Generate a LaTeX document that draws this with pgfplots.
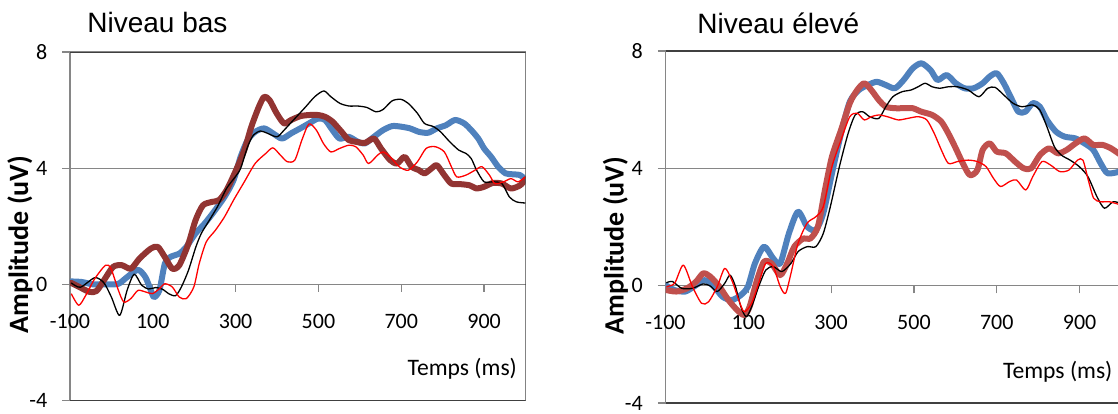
\documentclass[border=0pt]{standalone}
\usepackage{fontspec}
\setmainfont{Carlito}
\newfontfamily\arial{Liberation Sans}
\usepackage{pgfplots}
\pgfplotsset{compat=1.18}

\definecolor{xlblue}{RGB}{79,129,189}
\definecolor{xldark}{RGB}{146,52,50}
\definecolor{xlred}{RGB}{192,80,77}
\definecolor{xlframe}{RGB}{64,64,64}
\definecolor{xlgrid}{RGB}{134,134,134}

\pgfplotsset{
  erp/.style={
    scale only axis,
    width=227.75pt,
    xmin=-100, xmax=1000, ymin=-4, ymax=8,
    enlargelimits=false,
    axis x line=middle, axis y line=left,
    hide obscured x ticks=false, hide obscured y ticks=false,
    axis line style={-, xlgrid, line width=0.6pt},
    xtick={-100,100,300,500,700,900},
    xticklabels={-100,100,300,500,700,900},
    ytick={-4,0,4,8}, yticklabels={-4,0,4,8},
    tick align=outside, major tick length=3.8pt,
    tick style={xlgrid, line width=0.6pt},
    ymajorgrids, grid style={xlgrid, line width=0.6pt},
    tick label style={font=\fontsize{11}{13}\selectfont},
    xticklabel style={yshift=-7.5pt},
    yticklabel style={xshift=-4pt},
    xlabel={Temps (ms)},
    xlabel style={at={(rel axis cs:0.982,0.09)}, anchor=east, inner sep=0pt,
      font=\fontsize{11.8}{14}\selectfont},
    ylabel={Amplitude (uV)},
    ylabel style={at={(rel axis cs:-0.11,0.447)}, anchor=center, rotate=0,
      font=\bfseries\fontsize{14}{16}\selectfont},
    thick line/.style={line width=3pt, smooth, tension=0.45, line join=round, line cap=round},
    thin line/.style={line width=0.65pt, smooth, tension=0.45, line join=round},
  }
}

\begin{document}
\begin{tikzpicture}
\path[use as bounding box, clip] (0,0) rectangle (559pt,206.5pt);

% Niveau bas
\begin{axis}[erp, at={(35pt,6.25pt)}, anchor=south west, height=174.25pt]
\addplot[xlblue, thick line] coordinates {
(-97,0.1) (-71,0.08) (-45,0) (-10,0) (17,0.02) (38,0.25) (64,0.5) (82,0.25)
(95,-0.2) (103,-0.44) (116,-0.2) (129,0.71) (142,0.94) (164,1.06) (181,1.29)
(203,1.75) (225,2.09) (247,2.49) (273,3.01) (295,3.59) (312,4.39) (329,4.97)
(347,5.25) (369,5.37) (390,5.2) (412,5.02) (434,5.2) (456,5.37) (477,5.54)
(499,5.71) (516,5.66) (534,5.31) (551,5.02) (573,5.08) (595,4.91) (612,4.85)
(634,5.08) (656,5.31) (678,5.45) (699,5.43) (721,5.37) (743,5.25) (765,5.22)
(786,5.37) (808,5.48) (830,5.66) (852,5.54) (869,5.31) (886,5.02) (900,4.68)
(917,4.39) (934,4.05) (952,3.82) (969,3.79) (987,3.76) (1000,3.6)
};
\addplot[xldark, thick line] coordinates {
(-97,0.05) (-75,-0.11) (-53,-0.26) (-36,-0.23) (-18,0.14) (4,0.6) (25,0.66)
(47,0.54) (68,0.89) (95,1.23) (112,1.29) (129,0.94) (147,0.54) (164,0.66)
(186,1.4) (203,2.2) (221,2.72) (243,2.84) (260,2.9) (278,3.24) (299,3.87)
(321,4.62) (338,5.43) (356,6.11) (369,6.46) (382,6.34) (399,5.89) (417,5.54)
(434,5.66) (456,5.79) (477,5.83) (499,5.83) (516,5.77) (534,5.6) (556,5.25)
(573,4.97) (590,4.91) (612,4.87) (634,5.02) (651,4.68) (673,4.28) (690,4.16)
(708,4.39) (725,4.05) (743,3.93) (756,3.82) (773,3.99) (786,4.1) (804,3.76)
(821,3.47) (843,3.45) (865,3.41) (882,3.3) (900,3.36) (921,3.49) (943,3.47)
(965,3.3) (987,3.41) (1000,3.62)
};
\addplot[black, thin line] coordinates {
(-97,0.05) (-75,-0.1) (-40,0.23) (-18,0.05) (0,-0.44) (20,-1.07) (38,-0.2)
(55,0.35) (73,-0.03) (90,-0.16) (107,-0.11) (125,-0.18) (138,-0.32) (155,-0.39)
(169,-0.09) (186,0.48) (204,1.29) (217,1.75) (234,2.15) (256,2.67) (278,3.3)
(299,3.7) (312,3.99) (329,4.74) (343,5.14) (360,5.28) (377,5.2) (400,5.08)
(417,5.31) (443,5.71) (469,6.11) (491,6.46) (513,6.66) (530,6.46) (552,6.23)
(574,6.14) (595,6.14) (617,6.09) (639,5.94) (656,6.02) (678,6.32) (699,6.37)
(717,6.23) (739,5.89) (756,5.54) (778,5.43) (795,5.25) (817,4.91) (839,4.62)
(856,4.51) (869,4.33) (882,3.93) (900,3.53) (921,3.53) (943,3.47) (961,3.01)
(978,2.84) (1000,2.8)
};
\addplot[red, thin line] coordinates {
(-97,-0.32) (-79,-0.72) (-62,-0.38) (-40,0.2) (-14,0.66) (-1,0.54) (17,-0.21)
(30,-0.61) (47,-0.49) (64,-0.21) (82,-0.26) (99,-0.32) (116,-0.15) (129,0.02)
(147,-0.09) (164,-0.44) (181,-0.49) (199,-0.09) (212,0.71) (229,1.46) (251,1.86)
(273,2.32) (295,2.9) (321,3.53) (347,4.16) (373,4.51) (390,4.7) (408,4.45)
(425,4.22) (443,4.28) (460,4.97) (477,5.52) (495,5.31) (512,4.85) (530,4.56)
(551,4.68) (573,4.79) (590,4.74) (608,4.45) (621,4.16) (643,4.45) (656,4.56)
(673,4.39) (695,4.05) (717,3.93) (739,4.22) (760,4.68) (782,4.74) (804,4.56)
(821,4.05) (834,3.7) (856,3.76) (878,3.93) (895,4.05) (913,3.76) (926,3.47)
(947,3.53) (965,3.64) (982,3.53) (1000,3.7)
};
\draw[xlframe, line width=1pt] (rel axis cs:0,1) -- (rel axis cs:1,1)
  -- (rel axis cs:1,0) -- (rel axis cs:0,0);
\end{axis}

% Niveau eleve
\begin{axis}[erp, at={(332.75pt,5pt)}, anchor=south west, height=176pt]
\addplot[xlblue, thick line] coordinates {
(-98,0) (-78,-0.15) (-52,-0.2) (-26,0.02) (-5,0.19) (17,-0.03) (38,-0.38)
(60,-0.49) (82,-0.32) (99,-0.03) (116,0.76) (138,1.33) (160,0.93) (177,0.76)
(198,1.78) (220,2.52) (242,2.01) (263,1.9) (281,2.47) (302,3.83) (324,5.19)
(345,6.27) (367,6.67) (389,6.84) (410,6.95) (432,6.84) (454,6.73) (475,7.01)
(497,7.41) (518,7.58) (540,7.35) (557,7.01) (579,7.18) (601,6.9) (622,6.73)
(644,6.73) (666,6.9) (683,7.13) (700,7.24) (717,6.9) (735,6.39) (752,5.93)
(769,5.93) (787,6.22) (804,6.1) (821,5.65) (843,5.25) (864,5.08) (890,5.02)
(912,4.85) (933,4.63) (951,4.17) (968,3.83) (1000,3.9)
};
\addplot[xlred, thick line] coordinates {
(-98,-0.15) (-74,-0.2) (-48,-0.09) (-26,0.14) (-9,0.42) (8,0.31) (30,-0.03)
(52,-0.49) (73,-0.83) (90,-1.0) (103,-0.72) (121,0.19) (138,0.82) (156,0.76)
(177,0.36) (194,0.76) (211,1.33) (233,1.61) (250,1.61) (268,2.01) (285,3.26)
(302,4.4) (324,5.31) (345,6.22) (363,6.67) (380,6.9) (397,6.67) (415,6.33)
(432,6.1) (454,6.05) (475,6.05) (497,6.05) (518,5.93) (544,5.82) (566,5.59)
(583,5.19) (601,4.68) (618,4.17) (635,3.77) (653,3.94) (666,4.63) (683,4.85)
(700,4.57) (722,4.51) (744,4.23) (765,4.0) (783,4.0) (804,4.45) (826,4.68)
(848,4.51) (869,4.63) (890,4.85) (912,5.02) (933,4.8) (955,4.8) (976,4.68)
(1000,4.45)
};
\addplot[black, thin line] coordinates {
(-98,0.1) (-83,0.14) (-61,-0.09) (-35,-0.09) (-9,0.06) (8,-0.01) (25,-0.2)
(43,0.08) (56,0.36) (69,-0.03) (82,-0.72) (95,-1.06) (108,-0.72) (125,-0.03)
(142,0.53) (160,0.65) (181,0.48) (203,0.76) (220,1.16) (242,1.33) (263,1.33)
(281,1.78) (298,2.69) (320,4.06) (341,5.19) (358,5.82) (376,5.93) (393,5.76)
(415,5.7) (432,6.1) (449,6.44) (471,6.61) (493,6.67) (510,6.78) (527,6.9)
(544,6.78) (562,6.73) (583,6.78) (605,6.78) (631,6.67) (657,6.44) (678,6.73)
(696,6.76) (717,6.5) (739,6.22) (761,6.1) (787,6.16) (804,5.99) (821,5.42)
(839,4.74) (856,4.45) (877,4.28) (899,4.06) (920,3.72) (942,3.03) (960,2.64)
(981,2.86) (1000,2.8)
};
\addplot[red, thin line] coordinates {
(-98,-0.03) (-78,0.08) (-57,0.7) (-35,-0.03) (-13,-0.6) (4,-0.55) (25,-0.03)
(43,0.59) (60,0.19) (77,-0.49) (90,-0.89) (108,-0.6) (125,0.08) (142,0.76)
(160,0.65) (177,-0.03) (190,-0.26) (203,0.42) (220,1.44) (242,2.13) (263,2.35)
(281,2.69) (302,4.06) (324,4.97) (345,5.76) (363,5.88) (380,5.65) (397,5.76)
(415,5.82) (436,5.76) (462,5.65) (484,5.7) (510,5.76) (531,5.65) (549,5.19)
(566,4.63) (583,4.17) (605,4.23) (631,4.28) (653,4.23) (674,4.06) (692,3.66)
(709,3.38) (731,3.55) (748,3.6) (770,3.26) (787,3.72) (809,4.23) (830,4.11)
(852,3.89) (874,3.94) (895,4.28) (908,4.28) (921,3.6) (934,2.98) (951,2.86)
(972,2.86) (1000,2.75)
};
\draw[xlframe, line width=1pt] (rel axis cs:0,1) -- (rel axis cs:1,1)
  -- (rel axis cs:1,0) -- (rel axis cs:0,0);
\end{axis}

\node[anchor=base west, inner sep=0pt, font=\arial\fontsize{14}{16}\selectfont]
  at (43.5pt,190.3pt) {Niveau bas};
\node[anchor=base west, inner sep=0pt, font=\arial\fontsize{14}{16}\selectfont]
  at (348.5pt,189.8pt) {Niveau élevé};
\end{tikzpicture}
\end{document}
